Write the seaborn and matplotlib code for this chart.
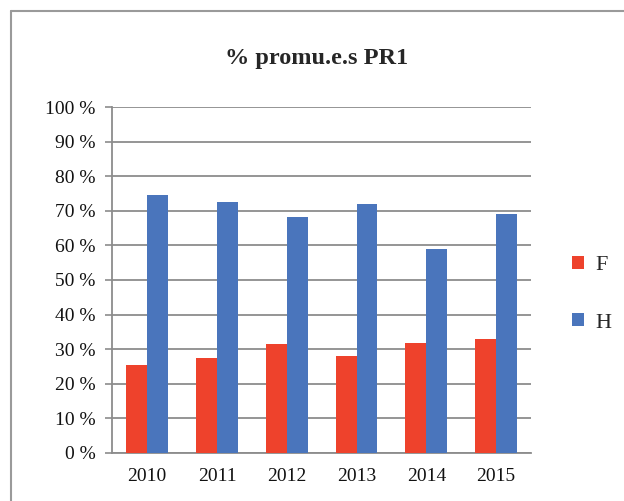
import matplotlib
matplotlib.use("Agg")
import matplotlib.pyplot as plt
import seaborn as sns
import pandas as pd
from matplotlib.lines import Line2D
from matplotlib.patches import Patch

years = ["2010", "2011", "2012", "2013", "2014", "2015"]
f_values = [25.4, 27.3, 31.6, 28.0, 31.8, 32.9]
h_values = [74.5, 72.5, 68.3, 72.1, 59.0, 69.1]
series_names = ["F", "H"]
colors = ["#EE422C", "#4A75BC"]
y_ticks = [0, 10, 20, 30, 40, 50, 60, 70, 80, 90, 100]

df = pd.DataFrame({
    "year": years * 2,
    "value": f_values + h_values,
    "sexe": ["F"] * len(years) + ["H"] * len(years),
})

sns.set_style("white")
plt.rcParams["font.family"] = ["Liberation Serif", "DejaVu Serif"]

fig = plt.figure(figsize=(6.24, 5.01), dpi=100)
ax = fig.add_axes([0.18, 0.0964, 0.671, 0.6896])

sns.barplot(data=df, x="year", y="value", hue="sexe", hue_order=series_names,
            palette=colors, width=0.6, gap=0, saturation=1, ax=ax,
            legend=False, linewidth=0, zorder=3)

ax.set_ylim(0, 100)
ax.set_xlim(-0.5, len(years) - 0.5)
ax.set_yticks(y_ticks)
ax.set_yticklabels([f"{t} %" for t in y_ticks], fontsize=14, color="#111111")
ax.set_xticks(range(len(years)))
ax.set_xticklabels(years, fontsize=14, color="#111111")
ax.set_xticks([i - 0.5 for i in range(len(years) + 1)], minor=True)
ax.tick_params(axis="x", which="major", length=0, pad=11)
ax.tick_params(axis="x", which="minor", length=5, width=1.2, color="#8c8c8c")
ax.tick_params(axis="y", length=5, width=1.2, color="#8c8c8c", direction="out", left=True, pad=7)
ax.set_xlabel("")
ax.set_ylabel("")
ax.grid(axis="y", color="#8c8c8c", linewidth=1.3, zorder=0)
ax.set_axisbelow(True)
for side in ["top", "right"]:
    ax.spines[side].set_visible(False)
for side in ["left", "bottom"]:
    ax.spines[side].set_color("#8c8c8c")
    ax.spines[side].set_linewidth(1.3)

fig.text(0.508, 0.883, "% promu.e.s PR1", ha="center", va="center",
         fontsize=17.5, fontweight="bold")

handles = [Patch(facecolor=c, edgecolor="none") for c in colors]
fig.legend(handles, series_names, loc="center left", bbox_to_anchor=(0.885, 0.413),
           frameon=False, fontsize=16, handlelength=0.55, handleheight=0.55,
           handletextpad=0.5, labelspacing=1.7)

# figure border (top and left visible in the reference)
fig.add_artist(Line2D([11 / 624, 11 / 624], [0, 1 - 11 / 501], transform=fig.transFigure,
                      color="#9a9a9a", linewidth=1.5))
fig.add_artist(Line2D([11 / 624, 1], [1 - 11 / 501, 1 - 11 / 501], transform=fig.transFigure,
                      color="#9a9a9a", linewidth=1.5))

fig.savefig("out.png", dpi=100)
